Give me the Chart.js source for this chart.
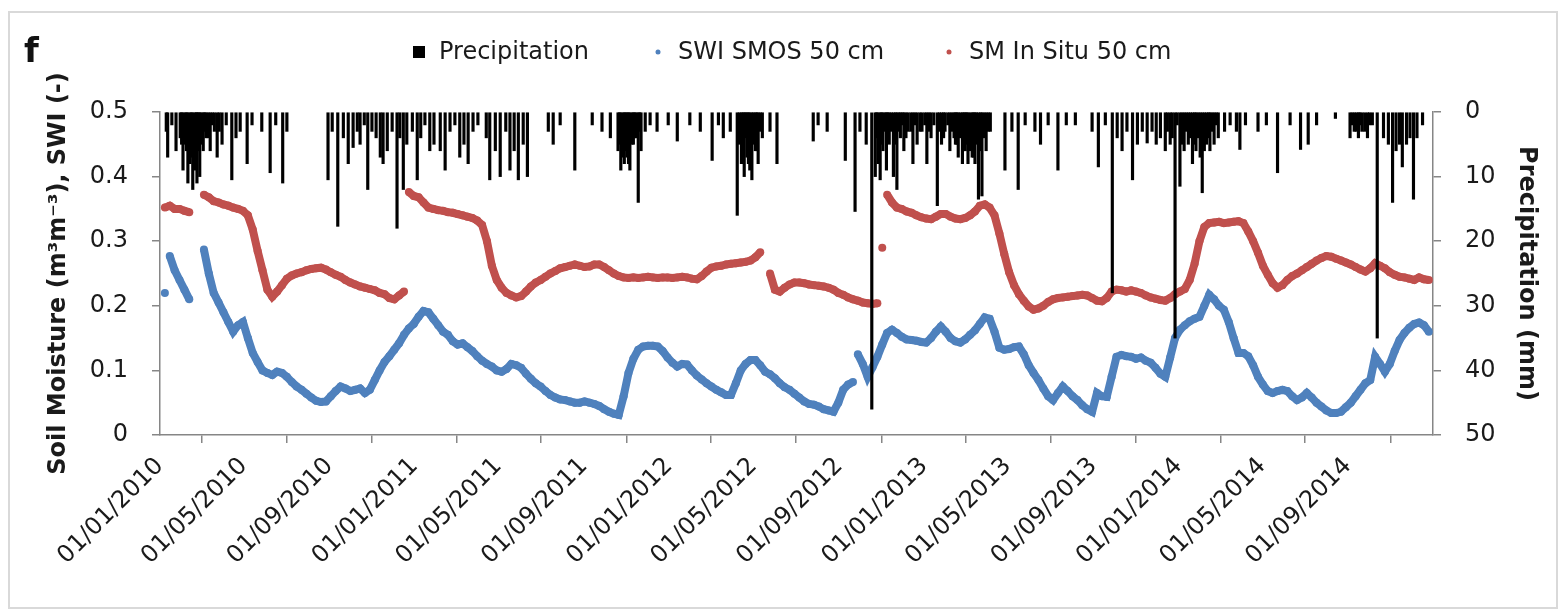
<!DOCTYPE html>
<html>
<head>
<meta charset="utf-8">
<title>Soil moisture 50 cm</title>
<script src="https://cdn.jsdelivr.net/npm/chart.js@4.4.0/dist/chart.umd.min.js"></script>
<style>
  html, body { margin: 0; padding: 0; background: #fff; }
  #wrap { position: relative; width: 1564px; height: 613px; }
  #frame { position: absolute; left: 8px; top: 11px; width: 1550px; height: 598px;
           border: 2px solid #d9d9d9; box-sizing: border-box; }
  #panel { position: absolute; left: 24px; top: 30px; font: bold 34px "DejaVu Sans"; color: #111; }
  canvas { position: absolute; left: 0; top: 0; }
</style>
</head>
<body>
<div id="wrap">
  <div id="frame"></div>
  <canvas id="mycanvas" width="1564" height="613"></canvas>
  <div id="panel">f</div>
</div>
<script>
// x axis ticks, every four months; the last one carries no label
var tickDates = ['01/01/2010', '01/05/2010', '01/09/2010', '01/01/2011', '01/05/2011', '01/09/2011',
                 '01/01/2012', '01/05/2012', '01/09/2012', '01/01/2013', '01/05/2013', '01/09/2013',
                 '01/01/2014', '01/05/2014', '01/09/2014', '01/01/2015'];
var tickLabels = ['01/01/2010', '01/05/2010', '01/09/2010', '01/01/2011', '01/05/2011', '01/09/2011',
                  '01/01/2012', '01/05/2012', '01/09/2012', '01/01/2013', '01/05/2013', '01/09/2013',
                  '01/01/2014', '01/05/2014', '01/09/2014', ''];

// weekly values from 01/01/2010 (one per week, null = no data)
var weekStep = 7;
var swiSmos = [
    null, 0.220, 0.277, 0.255, 0.240, 0.225, 0.210, null, null, 0.287,
    0.250, 0.220, 0.205, 0.190, 0.175, 0.160, 0.170, 0.175, 0.150, 0.127,
    0.113, 0.100, 0.096, 0.093, 0.098, 0.096, 0.090, 0.082, 0.075, 0.070,
    0.064, 0.058, 0.053, 0.051, 0.052, 0.060, 0.068, 0.075, 0.072, 0.068,
    0.070, 0.072, 0.065, 0.070, 0.085, 0.100, 0.113, 0.122, 0.132, 0.142,
    0.155, 0.165, 0.172, 0.183, 0.192, 0.190, 0.180, 0.170, 0.160, 0.155,
    0.145, 0.140, 0.142, 0.136, 0.130, 0.122, 0.115, 0.110, 0.106, 0.100,
    0.098, 0.102, 0.110, 0.108, 0.104, 0.095, 0.087, 0.080, 0.075, 0.068,
    0.062, 0.058, 0.055, 0.054, 0.052, 0.050, 0.050, 0.052, 0.050, 0.048,
    0.045, 0.040, 0.036, 0.033, 0.031, 0.060, 0.096, 0.118, 0.132, 0.137,
    0.138, 0.138, 0.137, 0.130, 0.120, 0.112, 0.106, 0.110, 0.109, 0.100,
    0.092, 0.086, 0.080, 0.075, 0.070, 0.066, 0.062, 0.062, 0.080, 0.100,
    0.110, 0.116, 0.116, 0.108, 0.098, 0.094, 0.088, 0.080, 0.074, 0.070,
    0.064, 0.058, 0.052, 0.048, 0.047, 0.044, 0.040, 0.038, 0.036, 0.050,
    0.070, 0.078, 0.082, 0.125, 0.110, 0.090, 0.105, 0.121, 0.140, 0.158,
    0.163, 0.158, 0.152, 0.148, 0.147, 0.146, 0.144, 0.143, 0.150, 0.160,
    0.168, 0.160, 0.150, 0.145, 0.143, 0.148, 0.155, 0.162, 0.172, 0.182,
    0.180, 0.160, 0.135, 0.132, 0.133, 0.136, 0.137, 0.125, 0.108, 0.096,
    0.085, 0.072, 0.060, 0.054, 0.065, 0.075, 0.068, 0.060, 0.054, 0.046,
    0.040, 0.036, 0.065, 0.060, 0.059, 0.090, 0.121, 0.124, 0.122, 0.121,
    0.118, 0.120, 0.115, 0.112, 0.104, 0.095, 0.090, 0.120, 0.150, 0.163,
    0.170, 0.176, 0.180, 0.183, 0.200, 0.217, 0.210, 0.200, 0.194, 0.175,
    0.150, 0.127, 0.127, 0.122, 0.108, 0.090, 0.078, 0.068, 0.065, 0.068,
    0.070, 0.068, 0.060, 0.054, 0.058, 0.065, 0.058, 0.050, 0.044, 0.038,
    0.034, 0.034, 0.036, 0.043, 0.050, 0.060, 0.070, 0.080, 0.085, 0.121,
    0.110, 0.098, 0.110, 0.130, 0.147, 0.158, 0.166, 0.172, 0.174, 0.170, 0.160
];
var smInSitu = [
    null, 0.352, 0.355, 0.350, 0.350, 0.347, 0.345, null, null, 0.372,
    0.368, 0.362, 0.360, 0.357, 0.355, 0.352, 0.350, 0.347, 0.340, 0.318,
    0.285, 0.255, 0.225, 0.214, 0.222, 0.232, 0.242, 0.247, 0.250, 0.252,
    0.255, 0.257, 0.258, 0.259, 0.256, 0.252, 0.248, 0.245, 0.240, 0.236,
    0.233, 0.230, 0.228, 0.226, 0.224, 0.220, 0.218, 0.212, 0.210, 0.216,
    0.222, 0.376, 0.370, 0.368, 0.360, 0.352, 0.350, 0.348, 0.347, 0.345,
    0.344, 0.342, 0.340, 0.338, 0.336, 0.332, 0.325, 0.300, 0.262, 0.240,
    0.228, 0.220, 0.216, 0.213, 0.215, 0.222, 0.230, 0.236, 0.240, 0.245,
    0.250, 0.254, 0.258, 0.260, 0.262, 0.264, 0.262, 0.260, 0.261, 0.264,
    0.264, 0.260, 0.255, 0.250, 0.246, 0.244, 0.243, 0.244, 0.243, 0.244,
    0.245, 0.244, 0.243, 0.244, 0.244, 0.243, 0.244, 0.245, 0.244, 0.242,
    0.241, 0.246, 0.253, 0.259, 0.261, 0.262, 0.264, 0.265, 0.266, 0.267,
    0.268, 0.270, 0.275, 0.283, null, 0.250, 0.225, 0.222, 0.228, 0.233,
    0.236, 0.236, 0.235, 0.233, 0.232, 0.231, 0.230, 0.228, 0.225, 0.220,
    0.217, 0.213, 0.210, 0.208, 0.205, 0.204, 0.203, 0.204, 0.290, 0.372,
    0.360, 0.352, 0.350, 0.346, 0.344, 0.340, 0.337, 0.335, 0.334, 0.338,
    0.342, 0.342, 0.338, 0.335, 0.334, 0.336, 0.340, 0.346, 0.355, 0.357,
    0.352, 0.340, 0.312, 0.280, 0.252, 0.232, 0.218, 0.208, 0.199, 0.194,
    0.196, 0.200, 0.206, 0.210, 0.212, 0.213, 0.214, 0.215, 0.216, 0.217,
    0.216, 0.212, 0.208, 0.207, 0.212, 0.222, 0.225, 0.224, 0.222, 0.224,
    0.222, 0.220, 0.216, 0.213, 0.211, 0.209, 0.208, 0.212, 0.218, 0.222,
    0.226, 0.240, 0.265, 0.300, 0.322, 0.328, 0.329, 0.330, 0.328, 0.329,
    0.330, 0.331, 0.328, 0.315, 0.300, 0.282, 0.262, 0.248, 0.235, 0.228,
    0.232, 0.240, 0.246, 0.250, 0.255, 0.260, 0.265, 0.270, 0.274, 0.277,
    0.276, 0.273, 0.270, 0.267, 0.264, 0.260, 0.256, 0.253, 0.258, 0.266,
    0.262, 0.258, 0.252, 0.248, 0.245, 0.244, 0.242, 0.240, 0.244, 0.241, 0.240
];

// rain days: day of record (0 = 01/01/2010) and daily total in mm
var precipDay = [
    9, 11, 17, 23, 29, 31, 33, 36, 38, 40,
    43, 45, 47, 50, 52, 53, 55, 57, 59, 62,
    64, 66, 69, 72, 75, 78, 82, 85, 89, 95,
    103, 109, 115, 125, 132, 146, 158, 166, 176, 182,
    241, 247, 255, 263, 270, 277, 283, 287, 293, 298,
    304, 310, 316, 320, 326, 333, 340, 344, 349, 354,
    362, 369, 374, 380, 387, 393, 402, 409, 416, 423,
    430, 436, 442, 449, 456, 468, 473, 481, 488, 496,
    502, 508, 514, 521, 527, 557, 564, 574, 595, 620,
    634, 646, 657, 659, 661, 664, 666, 668, 670, 672,
    674, 677, 679, 681, 683, 686, 688, 690, 696, 703,
    713, 729, 742, 760, 775, 792, 801, 808, 818, 828,
    831, 834, 836, 838, 840, 842, 844, 846, 849, 851,
    854, 856, 858, 861, 864, 875, 885, 937, 944, 957,
    983, 997, 1004, 1013, 1021, 1026, 1028, 1030, 1033, 1035,
    1037, 1040, 1042, 1044, 1046, 1049, 1052, 1055, 1057, 1060,
    1062, 1065, 1067, 1070, 1073, 1077, 1080, 1083, 1086, 1090,
    1093, 1097, 1100, 1103, 1106, 1110, 1115, 1118, 1121, 1124,
    1126, 1130, 1133, 1136, 1139, 1141, 1143, 1145, 1148, 1151,
    1153, 1155, 1157, 1159, 1162, 1165, 1167, 1169, 1171, 1174,
    1177, 1179, 1182, 1185, 1188, 1191, 1212, 1222, 1231, 1241,
    1255, 1263, 1274, 1288, 1300, 1313, 1337, 1346, 1356, 1366,
    1373, 1380, 1387, 1395, 1402, 1409, 1416, 1423, 1429, 1435,
    1442, 1445, 1449, 1452, 1456, 1459, 1463, 1466, 1469, 1472,
    1475, 1478, 1481, 1484, 1486, 1489, 1492, 1495, 1498, 1501,
    1504, 1506, 1509, 1512, 1515, 1518, 1527, 1535, 1544, 1549,
    1557, 1575, 1587, 1603, 1621, 1636, 1647, 1659, 1686, 1707,
    1710, 1713, 1716, 1719, 1721, 1724, 1728, 1732, 1735, 1739,
    1746, 1755, 1762, 1768, 1773, 1778, 1782, 1788, 1793, 1798,
    1803, 1811
];
var precipMm = [
    3, 7, 2, 6, 4, 5, 9, 5, 6, 11,
    8, 7, 12, 9, 8, 11, 6, 10, 5, 6,
    3, 4, 4, 6, 2, 3, 7, 3, 5, 2,
    10.5, 4, 3, 8, 2, 3, 9.4, 2, 11, 3,
    10.5, 3, 17.7, 4, 8, 5.5, 3, 5, 2, 12,
    3, 4, 7, 8, 6, 3, 18, 4, 12, 5,
    3, 10.5, 4, 2, 6, 5, 6, 9, 3, 2,
    7, 5, 8, 3, 2, 4, 10.5, 6, 10, 3,
    9, 6, 10.5, 5, 10, 3, 5, 2, 9, 2,
    3, 4, 6, 5, 9, 7, 8, 6, 7, 8,
    9, 5, 5, 4, 4, 14, 3, 6, 3, 2,
    3, 2, 4.5, 2, 3, 7.5, 2, 4, 3, 16,
    5, 8, 6, 10, 4, 7, 8, 9, 10.5, 5,
    6, 6, 8, 3, 4, 3, 8, 4.5, 2, 3,
    7.5, 15.4, 3, 5, 46, 10, 4, 8, 10.5, 5,
    6, 3, 9, 4, 5, 3, 10, 5, 12, 3,
    4, 2, 6, 4, 3, 3, 8, 2, 5, 3,
    3, 2, 8, 3, 4, 2, 14.5, 3, 5, 4,
    3, 2, 6, 3, 4, 5, 5, 7, 4, 8,
    6, 6, 5, 8, 6, 7, 7, 8, 5, 13.5,
    6, 13, 4, 6, 3, 3, 9, 3, 12, 2,
    3, 5, 2, 9, 2, 2, 3, 8.5, 2, 28,
    4, 6, 3, 10.5, 5, 3, 4.8, 3, 5, 4,
    6, 3, 5, 4, 35, 2, 11.5, 5, 6, 3,
    5, 4, 8, 5, 6, 4, 7, 12.5, 6, 5,
    4, 6, 3, 5, 2, 4, 3, 2, 3, 5.8,
    2, 3, 2, 9.4, 2, 5.8, 5, 2, 1, 4,
    2, 3, 3, 4, 2, 3, 3, 4, 2, 2,
    35, 4, 5, 14, 6, 5, 8.5, 5, 4, 13.5,
    4, 2
];

var dayMs = 86400000;
var origin = Date.UTC(2010, 0, 1);
function dayOf(s) {
    var p = s.split('/');
    return (Date.UTC(+p[2], +p[1] - 1, +p[0]) - origin) / dayMs;
}
var tickDays = tickDates.map(dayOf);

function weekly(values) {
    return values.map(function (v, i) { return { x: i * weekStep, y: v }; });
}

var precipData = precipDay.map(function (d, i) { return { x: d, y: precipMm[i] }; });

// sudden jumps in the records are left as loose dots, not joined up
function joinColour(colour) {
    return function (seg) {
        return Math.abs(seg.p1.parsed.y - seg.p0.parsed.y) > 0.04 ? 'rgba(0,0,0,0)' : colour;
    };
}

var font = '"DejaVu Sans"';
var axisGrey = '#868686';
var blue = '#4F81BD';
var red = '#C0504D';

// legend row above the plot
var legendRow = {
    id: 'legendRow',
    afterDraw: function (chart) {
        var ctx = chart.ctx;
        var marks = [419, 658, 949];
        ctx.save();
        ctx.font = '24px ' + font;
        ctx.textBaseline = 'middle';
        chart.data.datasets.forEach(function (ds, i) {
            var cx = marks[i], cy = 52;
            ctx.fillStyle = ds.backgroundColor;
            if (ds.type === 'bar') {
                ctx.fillRect(cx - 6, cy - 6, 12, 12);
            } else {
                ctx.beginPath();
                ctx.arc(cx, cy, 2.5, 0, Math.PI * 2);
                ctx.fill();
            }
            ctx.fillStyle = '#1a1a1a';
            ctx.fillText(ds.label, cx + 20, cy + 1);
        });
        ctx.restore();
    }
};

var ctx = document.getElementById('mycanvas');
var chart = new Chart(ctx, {
    type: 'scatter',
    data: {
        datasets: [
            {
                type: 'bar',
                label: 'Precipitation',
                data: precipData,
                yAxisID: 'y2',
                backgroundColor: '#000000',
                barThickness: 2.5,
                grouped: false,
                order: 0
            },
            {
                label: 'SWI SMOS 50 cm',
                data: weekly(swiSmos),
                yAxisID: 'y',
                backgroundColor: blue,
                borderColor: blue,
                showLine: true,
                spanGaps: false,
                borderWidth: 8,
                segment: { borderColor: joinColour(blue) },
                pointRadius: 4,
                pointBorderWidth: 0,
                order: 2
            },
            {
                label: 'SM In Situ 50 cm',
                data: weekly(smInSitu),
                yAxisID: 'y',
                backgroundColor: red,
                borderColor: red,
                showLine: true,
                spanGaps: false,
                borderWidth: 8,
                segment: { borderColor: joinColour(red) },
                pointRadius: 4,
                pointBorderWidth: 0,
                order: 1
            }
        ]
    },
    options: {
        responsive: false,
        animation: false,
        devicePixelRatio: 1,
        layout: { padding: { top: 112, left: 0, right: 0, bottom: 0 } },
        plugins: {
            legend: { display: false },
            tooltip: { enabled: false }
        },
        scales: {
            x: {
                type: 'linear',
                min: 0,
                max: tickDays[tickDays.length - 1],
                offset: false,
                afterBuildTicks: function (scale) {
                    scale.ticks = tickDays.map(function (d) { return { value: d }; });
                },
                afterFit: function (scale) { scale.height = 178; },
                grid: { drawOnChartArea: false, tickLength: 8, color: axisGrey, lineWidth: 1.5 },
                border: { color: axisGrey, width: 1.5 },
                ticks: {
                    autoSkip: false,
                    maxRotation: 45,
                    minRotation: 45,
                    padding: 9,
                    color: '#1a1a1a',
                    font: { family: font, size: 24 },
                    callback: function (value, index) { return tickLabels[index]; }
                }
            },
            y: {
                position: 'left',
                min: 0,
                max: 0.5,
                afterFit: function (scale) { scale.width = 160; },
                grid: { drawOnChartArea: false, tickLength: 8, color: axisGrey, lineWidth: 1.5 },
                border: { color: axisGrey, width: 1.5 },
                ticks: { stepSize: 0.1, padding: 24, color: '#1a1a1a', font: { family: font, size: 24 } },
                title: {
                    display: true,
                    text: 'Soil Moisture (m\u00b3m\u207b\u00b3), SWI (-)',
                    color: '#1a1a1a',
                    font: { family: font, size: 24, weight: 'bold' },
                    padding: { top: 44, bottom: 0 }
                }
            },
            y2: {
                position: 'right',
                reverse: true,
                min: 0,
                max: 50,
                afterFit: function (scale) { scale.width = 131; },
                grid: { drawOnChartArea: false, tickLength: 8, color: axisGrey, lineWidth: 1.5 },
                border: { color: axisGrey, width: 1.5 },
                ticks: { stepSize: 10, padding: 24, color: '#1a1a1a', font: { family: font, size: 24 } },
                title: {
                    display: true,
                    text: 'Precipitation (mm)',
                    color: '#1a1a1a',
                    font: { family: font, size: 24, weight: 'bold' },
                    padding: { top: 23, bottom: 0 }
                }
            }
        }
    },
    plugins: [legendRow]
});
</script>
</body>
</html>
